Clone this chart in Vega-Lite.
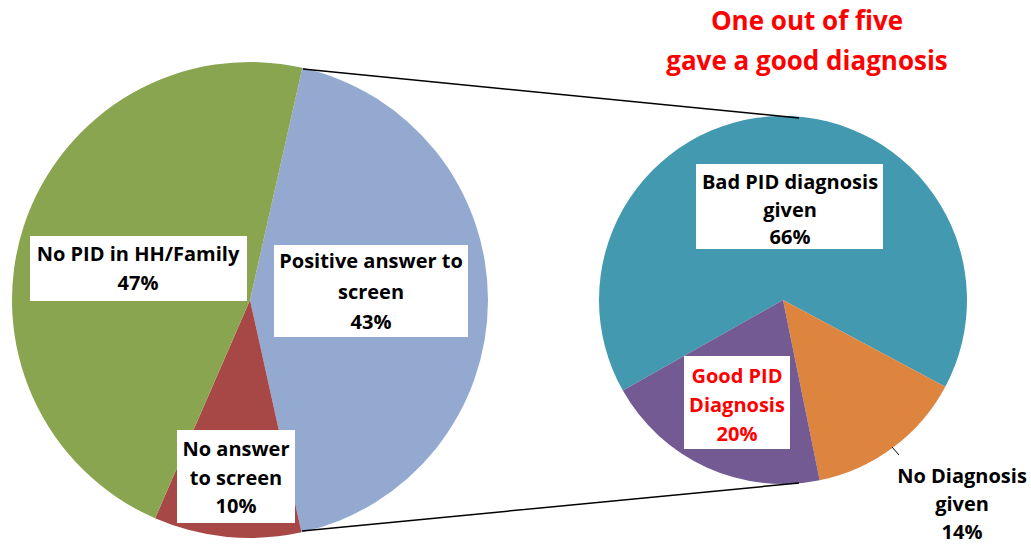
{
  "$schema": "https://vega.github.io/schema/vega-lite/v6.json",
  "width": 1031,
  "height": 544,
  "autosize": {"type": "none"},
  "padding": 0,
  "background": "white",
  "view": {"stroke": null},
  "config": {"text": {"font": "Open Sans", "fontWeight": "bold", "fontSize": 20, "lineBreak": "\n"}},
  "datasets": {
    "pies": [
      {"pie": "main", "category": "Positive answer to screen", "value": 43, "ord": 1, "label": "Positive answer to\nscreen\n43%"},
      {"pie": "main", "category": "No answer to screen", "value": 10, "ord": 2, "label": "No answer\nto screen\n10%"},
      {"pie": "main", "category": "No PID in HH/Family", "value": 47, "ord": 3, "label": "No PID in HH/Family\n47%"},
      {"pie": "detail", "category": "Bad PID diagnosis given", "value": 66, "ord": 1, "label": "Bad PID diagnosis\ngiven\n66%"},
      {"pie": "detail", "category": "No Diagnosis given", "value": 14, "ord": 2, "label": "No Diagnosis\ngiven\n14%"},
      {"pie": "detail", "category": "Good PID Diagnosis", "value": 20, "ord": 3, "label": "Good PID\nDiagnosis\n20%"}
    ]
  },
  "data": {"name": "pies"},
  "resolve": {"scale": {"theta": "independent"}},
  "layer": [
    {
      "transform": [{"filter": "datum.pie === 'main'"}],
      "mark": {"type": "arc", "outerRadius": 238},
      "encoding": {
        "x": {"datum": 250, "type": "quantitative", "scale": {"domain": [0, 1031], "nice": false, "zero": false}, "axis": null},
        "y": {"datum": 300, "type": "quantitative", "scale": {"domain": [0, 544], "nice": false, "zero": false, "reverse": true}, "axis": null},
        "theta": {"field": "value", "type": "quantitative", "stack": true, "scale": {"range": [0.2217, 6.5049]}},
        "order": {"field": "ord", "type": "quantitative"},
        "color": {"field": "category", "type": "nominal", "legend": null,
          "scale": {"domain": ["Positive answer to screen", "No answer to screen", "No PID in HH/Family", "Bad PID diagnosis given", "No Diagnosis given", "Good PID Diagnosis"],
                    "range": ["#94A9D0", "#A84846", "#8AA550", "#4399B0", "#DD843F", "#735A92"]}}
      }
    },
    {
      "transform": [{"filter": "datum.pie === 'detail'"}],
      "mark": {"type": "arc", "outerRadius": 184},
      "encoding": {
        "x": {"datum": 783, "type": "quantitative"},
        "y": {"datum": 300, "type": "quantitative"},
        "theta": {"field": "value", "type": "quantitative", "stack": true, "scale": {"range": [4.1975, 10.4807]}},
        "order": {"field": "ord", "type": "quantitative"},
        "color": {"field": "category", "type": "nominal", "legend": null,
          "scale": {"domain": ["Positive answer to screen", "No answer to screen", "No PID in HH/Family", "Bad PID diagnosis given", "No Diagnosis given", "Good PID Diagnosis"],
                    "range": ["#94A9D0", "#A84846", "#8AA550", "#4399B0", "#DD843F", "#735A92"]}}
      }
    },
    {
      "data": {"values": [{}]},
      "mark": {"type": "rule", "color": "black", "strokeWidth": 1.5},
      "encoding": {"x": {"datum": 303, "type": "quantitative"}, "y": {"datum": 69, "type": "quantitative"}, "x2": {"datum": 799}, "y2": {"datum": 118}}
    },
    {
      "data": {"values": [{}]},
      "mark": {"type": "rule", "color": "black", "strokeWidth": 1.5},
      "encoding": {"x": {"datum": 302, "type": "quantitative"}, "y": {"datum": 531, "type": "quantitative"}, "x2": {"datum": 799}, "y2": {"datum": 483}}
    },
    {
      "data": {"values": [{}]},
      "mark": {"type": "rule", "color": "black", "strokeWidth": 1},
      "encoding": {"x": {"datum": 892, "type": "quantitative"}, "y": {"datum": 447, "type": "quantitative"}, "x2": {"datum": 899}, "y2": {"datum": 455}}
    },
    {
      "transform": [{"filter": "datum.category === 'Positive answer to screen'"}],
      "layer": [
        {"mark": {"type": "rect", "color": "white"},
         "encoding": {"x": {"datum": 274, "type": "quantitative"}, "x2": {"datum": 468}, "y": {"datum": 245, "type": "quantitative"}, "y2": {"datum": 337}}},
        {"mark": {"type": "text", "lineHeight": 30.5, "baseline": "middle", "align": "center"},
         "encoding": {"x": {"datum": 371, "type": "quantitative"}, "y": {"datum": 262, "type": "quantitative"}, "text": {"field": "label"}}}
      ]
    },
    {
      "transform": [{"filter": "datum.category === 'No answer to screen'"}],
      "layer": [
        {"mark": {"type": "rect", "color": "white"},
         "encoding": {"x": {"datum": 177, "type": "quantitative"}, "x2": {"datum": 295}, "y": {"datum": 430, "type": "quantitative"}, "y2": {"datum": 523}}},
        {"mark": {"type": "text", "lineHeight": 28.5, "baseline": "middle", "align": "center"},
         "encoding": {"x": {"datum": 236, "type": "quantitative"}, "y": {"datum": 450, "type": "quantitative"}, "text": {"field": "label"}}}
      ]
    },
    {
      "transform": [{"filter": "datum.category === 'No PID in HH/Family'"}],
      "layer": [
        {"mark": {"type": "rect", "color": "white"},
         "encoding": {"x": {"datum": 30, "type": "quantitative"}, "x2": {"datum": 247}, "y": {"datum": 236, "type": "quantitative"}, "y2": {"datum": 301}}},
        {"mark": {"type": "text", "lineHeight": 29, "baseline": "middle", "align": "center"},
         "encoding": {"x": {"datum": 138, "type": "quantitative"}, "y": {"datum": 255, "type": "quantitative"}, "text": {"field": "label"}}}
      ]
    },
    {
      "transform": [{"filter": "datum.category === 'Bad PID diagnosis given'"}],
      "layer": [
        {"mark": {"type": "rect", "color": "white"},
         "encoding": {"x": {"datum": 696, "type": "quantitative"}, "x2": {"datum": 883}, "y": {"datum": 164, "type": "quantitative"}, "y2": {"datum": 249}}},
        {"mark": {"type": "text", "lineHeight": 27.5, "baseline": "middle", "align": "center"},
         "encoding": {"x": {"datum": 790, "type": "quantitative"}, "y": {"datum": 183, "type": "quantitative"}, "text": {"field": "label"}}}
      ]
    },
    {
      "transform": [{"filter": "datum.category === 'Good PID Diagnosis'"}],
      "layer": [
        {"mark": {"type": "rect", "color": "white"},
         "encoding": {"x": {"datum": 684, "type": "quantitative"}, "x2": {"datum": 790}, "y": {"datum": 356, "type": "quantitative"}, "y2": {"datum": 449}}},
        {"mark": {"type": "text", "lineHeight": 29, "baseline": "middle", "align": "center", "color": "#FF0000"},
         "encoding": {"x": {"datum": 737, "type": "quantitative"}, "y": {"datum": 377, "type": "quantitative"}, "text": {"field": "label"}}}
      ]
    },
    {
      "transform": [{"filter": "datum.category === 'No Diagnosis given'"}],
      "mark": {"type": "text", "lineHeight": 28, "baseline": "middle", "align": "center"},
      "encoding": {"x": {"datum": 962, "type": "quantitative"}, "y": {"datum": 477, "type": "quantitative"}, "text": {"field": "label"}}
    },
    {
      "data": {"values": [{"title": "One out of five\ngave a good diagnosis"}]},
      "mark": {"type": "text", "lineHeight": 40, "baseline": "middle", "align": "center", "color": "#FF0000", "fontSize": 26},
      "encoding": {"x": {"datum": 807, "type": "quantitative"}, "y": {"datum": 22, "type": "quantitative"}, "text": {"field": "title"}}
    }
  ]
}
